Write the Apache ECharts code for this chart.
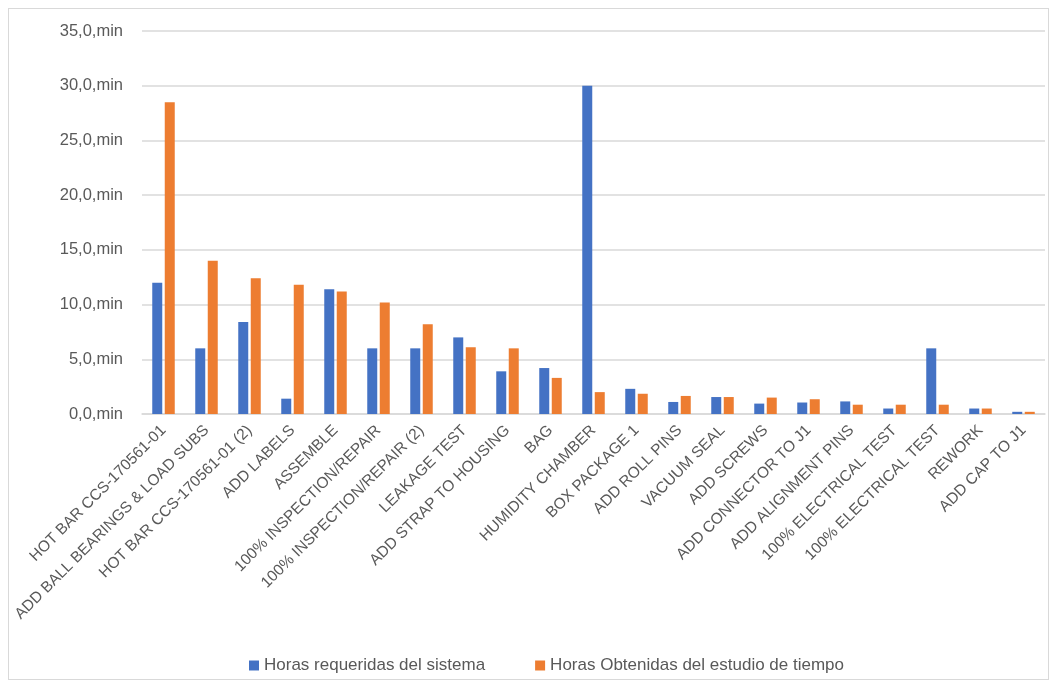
<!DOCTYPE html>
<html>
<head>
<meta charset="utf-8">
<script src="https://cdn.jsdelivr.net/npm/echarts@6/dist/echarts.min.js"></script>
<style>
  html, body { margin: 0; padding: 0; background: #fff; }
  #frame { position: absolute; left: 8px; top: 8px; width: 1041px; height: 672px; border: 1px solid #d9d9d9; box-sizing: border-box; }
  #chart { position: absolute; left: 0; top: 0; width: 1053px; height: 688px; }
</style>
</head>
<body>
<div id="frame"></div>
<div id="chart"></div>
<script>
// Process steps on the category axis
const categories = [
  'HOT BAR CCS-170561-01',
  'ADD BALL BEARINGS & LOAD SUBS',
  'HOT BAR CCS-170561-01 (2)',
  'ADD LABELS',
  'ASSEMBLE',
  '100% INSPECTION/REPAIR',
  '100% INSPECTION/REPAIR (2)',
  'LEAKAGE TEST',
  'ADD STRAP TO HOUSING',
  'BAG',
  'HUMIDITY CHAMBER',
  'BOX PACKAGE 1',
  'ADD ROLL PINS',
  'VACUUM SEAL',
  'ADD SCREWS',
  'ADD CONNECTOR TO J1',
  'ADD ALIGNMENT PINS',
  '100% ELECTRICAL TEST',
  '100% ELECTRICAL TEST',
  'REWORK',
  'ADD CAP TO J1'
];

// Minutes required by the system
const horasSistema = [12.0, 6.0, 8.4, 1.4, 11.4, 6.0, 6.0, 7.0, 3.9, 4.2, 30.0, 2.3, 1.1, 1.55, 0.95, 1.05, 1.15, 0.5, 6.0, 0.5, 0.2];

// Minutes measured in the time study
const horasEstudio = [28.5, 14.0, 12.4, 11.8, 11.2, 10.2, 8.2, 6.1, 6.0, 3.3, 2.0, 1.85, 1.65, 1.55, 1.5, 1.35, 0.85, 0.85, 0.85, 0.5, 0.2];

const seriesNames = ['Horas requeridas del sistema', 'Horas Obtenidas del estudio de tiempo'];

// Value axis tick settings
const yMin = 0, yMax = 35, yStep = 5;

const FONT = 'Liberation Sans';
const TXT = '#595959';

const chart = echarts.init(document.getElementById('chart'), null, { renderer: 'canvas' });
chart.setOption({
  animation: false,
  textStyle: { fontFamily: FONT },
  color: ['#4472C4', '#ED7D31'],
  grid: { left: 142, right: 8, top: 31, bottom: 274, containLabel: false },
  legend: {
    top: 652,
    left: 244,
    itemWidth: 10,
    itemHeight: 10,
    itemGap: 50,
    icon: 'rect',
    textStyle: { color: TXT, fontSize: 17, fontFamily: FONT },
    data: seriesNames
  },
  xAxis: {
    type: 'category',
    data: categories,
    axisLine: { lineStyle: { color: '#d9d9d9', width: 1.5 } },
    axisTick: { show: false },
    axisLabel: {
      interval: 0,
      rotate: 45,
      color: TXT,
      fontSize: 15.5,
      fontFamily: FONT,
      margin: 14
    }
  },
  yAxis: {
    type: 'value',
    min: yMin,
    max: yMax,
    interval: yStep,
    axisLine: { show: false },
    axisTick: { show: false },
    splitLine: { lineStyle: { color: '#d9d9d9', width: 1.5 } },
    axisLabel: {
      color: TXT,
      fontSize: 16.5,
      fontFamily: FONT,
      margin: 19,
      formatter: v => v.toFixed(1).replace('.', ',') + ',min'
    }
  },
  series: [
    { name: seriesNames[0], type: 'bar', data: horasSistema, barWidth: 10, barGap: '25%' },
    { name: seriesNames[1], type: 'bar', data: horasEstudio, barWidth: 10, barGap: '25%' }
  ]
});
</script>
</body>
</html>
